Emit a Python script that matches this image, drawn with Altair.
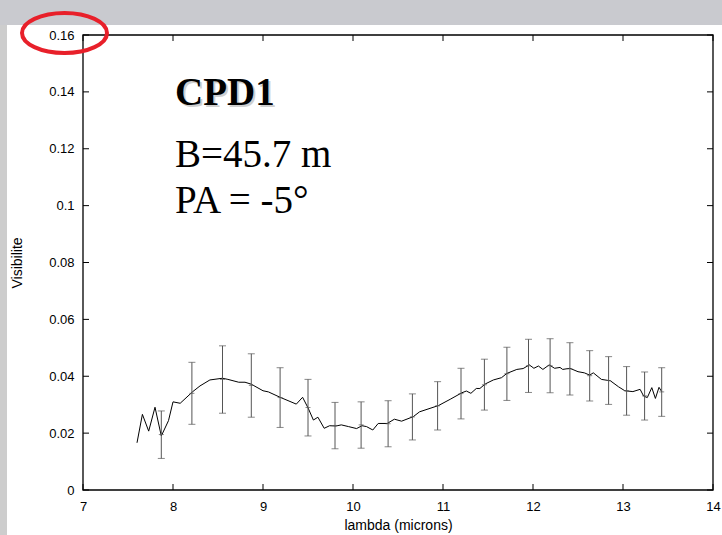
import altair as alt
import pandas as pd

# ---------------- data ----------------
lam = [7.60, 7.66, 7.73, 7.80, 7.87, 7.95, 8.00, 8.08, 8.22, 8.30,
       8.41, 8.55, 8.61, 8.73, 8.80, 8.87, 9.00, 9.06, 9.19, 9.37,
       9.44, 9.50, 9.56, 9.61, 9.68, 9.74, 9.81, 9.87, 9.95, 10.04,
       10.10, 10.15, 10.22, 10.28, 10.38, 10.46, 10.54, 10.67, 10.74, 10.95,
       11.08, 11.21, 11.26, 11.31, 11.37, 11.41, 11.47, 11.56, 11.65, 11.71,
       11.82, 11.89, 11.96, 12.01, 12.06, 12.11, 12.18, 12.24, 12.30, 12.33,
       12.41, 12.50, 12.57, 12.63, 12.67, 12.76, 12.86, 12.95, 13.02, 13.11,
       13.19, 13.23, 13.27, 13.32, 13.36, 13.40, 13.43]
vis = [0.0166, 0.0266, 0.0207, 0.0291, 0.0190, 0.0244, 0.0310, 0.0305, 0.0346, 0.0366,
       0.0387, 0.0393, 0.0389, 0.0379, 0.0379, 0.0372, 0.0349, 0.0345, 0.0326, 0.0302,
       0.0326, 0.0289, 0.0246, 0.0256, 0.0217, 0.0226, 0.0225, 0.0229, 0.0223, 0.0216,
       0.0226, 0.0223, 0.0211, 0.0234, 0.0234, 0.0249, 0.0242, 0.0258, 0.0275, 0.0297,
       0.0319, 0.0342, 0.0348, 0.0340, 0.0357, 0.0357, 0.0373, 0.0387, 0.0395, 0.0410,
       0.0424, 0.0427, 0.0440, 0.0428, 0.0436, 0.0424, 0.0440, 0.0428, 0.0431, 0.0424,
       0.0428, 0.0416, 0.0412, 0.0404, 0.0412, 0.0389, 0.0384, 0.0363, 0.0349, 0.0346,
       0.0354, 0.0330, 0.0325, 0.0360, 0.0322, 0.0361, 0.0346]

err_lam = [7.87, 8.21, 8.55, 8.87, 9.19, 9.50, 9.80, 10.09, 10.39, 10.66, 10.94,
           11.20, 11.46, 11.71, 11.95, 12.19, 12.41, 12.63, 12.84, 13.04, 13.24, 13.43]
err_lo = [0.0111, 0.0231, 0.0270, 0.0256, 0.0220, 0.0190, 0.0145, 0.0147, 0.0152, 0.0176, 0.0211,
          0.0250, 0.0281, 0.0315, 0.0343, 0.0342, 0.0334, 0.0313, 0.0301, 0.0263, 0.0246, 0.0259]
err_hi = [0.0278, 0.0449, 0.0507, 0.0479, 0.0430, 0.0389, 0.0308, 0.0310, 0.0314, 0.0338, 0.0381,
          0.0428, 0.0460, 0.0502, 0.0530, 0.0532, 0.0518, 0.0490, 0.0469, 0.0434, 0.0415, 0.0430]
err_mid = [0.0195, 0.0340, 0.0389, 0.0368, 0.0325, 0.0290, 0.0227, 0.0229, 0.0233, 0.0257, 0.0296,
           0.0339, 0.0370, 0.0409, 0.0437, 0.0437, 0.0426, 0.0402, 0.0385, 0.0349, 0.0331, 0.0345]

x_ticks = [7, 8, 9, 10, 11, 12, 13, 14]
y_ticks = [0, 0.02, 0.04, 0.06, 0.08, 0.1, 0.12, 0.14, 0.16]

x_title = "lambda (microns)"
y_title = "Visibilite"
label_name = "CPD1"
label_base = "B=45.7 m"
label_pa = "PA = -5°"

# ---------------- layout ----------------
W, H = 630, 455
SANS = "Liberation Sans"
SERIF = "Liberation Serif"

xs = alt.Scale(domain=[7, 14], nice=False, zero=False)
ys = alt.Scale(domain=[0, 0.16], nice=False, zero=False)

one = pd.DataFrame({"k": [0]})

# grey surroundings of the slide (drawn in the padding, clear of all text)
top_band = alt.Chart(one).mark_rect(fill="#c9cacf").encode(
    x=alt.value(-83), x2=alt.value(W + 9), y=alt.value(-35), y2=alt.value(-10)
)
strip = alt.Chart(one).mark_rect(fill="#cdcdcd").encode(
    x=alt.value(-83), x2=alt.value(-76), y=alt.value(-10), y2=alt.value(H + 45)
)

x_axis = alt.Axis(
    values=x_ticks, format="d", title=x_title, ticks=False, domain=False, grid=False,
    labelFont=SANS, labelFontSize=13, labelColor="black", labelPadding=10,
    labelFlush=False, labelOverlap=False,
    titleFont=SANS, titleFontSize=14, titleFontWeight="normal", titleColor="black",
    titleY=35, titleBaseline="middle")
y_axis = alt.Axis(
    values=y_ticks, format="~g", title=y_title, ticks=False, domain=False, grid=False,
    labelFont=SANS, labelFontSize=13, labelColor="black", labelPadding=9,
    labelFlush=False, labelOverlap=False, labelBaseline="middle",
    titleFont=SANS, titleFontSize=14, titleFontWeight="normal", titleColor="black",
    titleX=-66, titleY=H / 2, titleAngle=270, titleAlign="center", titleBaseline="middle")

line = alt.Chart(pd.DataFrame({"lam": lam, "vis": vis})).mark_line(
    color="black", strokeWidth=1
).encode(
    x=alt.X("lam:Q", scale=xs, axis=x_axis),
    y=alt.Y("vis:Q", scale=ys, axis=y_axis),
)

err_df = pd.DataFrame({"lam": err_lam, "lo": err_lo, "hi": err_hi, "mid": err_mid})
ECOL = "#555555"
bars = alt.Chart(err_df).mark_rule(color=ECOL, strokeWidth=1).encode(
    x=alt.X("lam:Q", scale=xs),
    y=alt.Y("lo:Q", scale=ys),
    y2="hi:Q",
)
cap_lo = alt.Chart(err_df).mark_tick(orient="horizontal", size=7, thickness=1, color=ECOL).encode(
    x=alt.X("lam:Q", scale=xs), y=alt.Y("lo:Q", scale=ys))
cap_hi = alt.Chart(err_df).mark_tick(orient="horizontal", size=7, thickness=1, color=ECOL).encode(
    x=alt.X("lam:Q", scale=xs), y=alt.Y("hi:Q", scale=ys))
cap_mid = alt.Chart(err_df).mark_tick(orient="horizontal", size=5, thickness=1, color=ECOL).encode(
    x=alt.X("lam:Q", scale=xs), y=alt.Y("mid:Q", scale=ys))

xt = pd.DataFrame({"t": x_ticks})
yt = pd.DataFrame({"t": y_ticks})
TL = 6
tick_b = alt.Chart(xt).mark_rule(color="black").encode(
    x=alt.X("t:Q", scale=xs), y=alt.value(H), y2=alt.value(H - TL))
tick_t = alt.Chart(xt).mark_rule(color="black").encode(
    x=alt.X("t:Q", scale=xs), y=alt.value(0), y2=alt.value(TL))
tick_l = alt.Chart(yt).mark_rule(color="black").encode(
    y=alt.Y("t:Q", scale=ys), x=alt.value(0), x2=alt.value(TL))
tick_r = alt.Chart(yt).mark_rule(color="black").encode(
    y=alt.Y("t:Q", scale=ys), x=alt.value(W), x2=alt.value(W - TL))

frame = alt.Chart(one).mark_rect(filled=False, stroke="black", strokeWidth=1.3).encode(
    x=alt.value(0), x2=alt.value(W), y=alt.value(0), y2=alt.value(H))

def label(txt, px, py, color="black", weight="normal"):
    return alt.Chart(pd.DataFrame({"s": [txt]})).mark_text(
        font=SERIF, fontSize=39, fontWeight=weight, color=color,
        align="left", baseline="alphabetic"
    ).encode(text="s:N", x=alt.value(px), y=alt.value(py))

name_shadow = label(label_name, 94, 72, color="#cfcfcf", weight="bold")
name = label(label_name, 92, 70, weight="bold")
base = label(label_base, 92, 132)
pa = label(label_pa, 92, 178)

ELLIPSE = "M -1 0 A 1 0.47 0 1 1 1 0 A 1 0.47 0 1 1 -1 0 Z"
ellipse = alt.Chart(one).mark_point(
    shape=ELLIPSE, size=7225, filled=False, stroke="#e8202a", strokeWidth=4, opacity=1
).encode(x=alt.value(-18.5), y=alt.value(-2))

chart = alt.layer(
    top_band, strip, line, bars, cap_lo, cap_hi, cap_mid,
    tick_b, tick_t, tick_l, tick_r, frame,
    name_shadow, name, base, pa, ellipse
).properties(
    width=W, height=H,
    autosize=alt.AutoSizeParams(type="none"),
    padding={"left": 83, "top": 35, "right": 9, "bottom": 45},
).configure(background="white").configure_view(strokeWidth=0)

chart.save("out.html", embed_options={"renderer": "svg", "actions": False})
